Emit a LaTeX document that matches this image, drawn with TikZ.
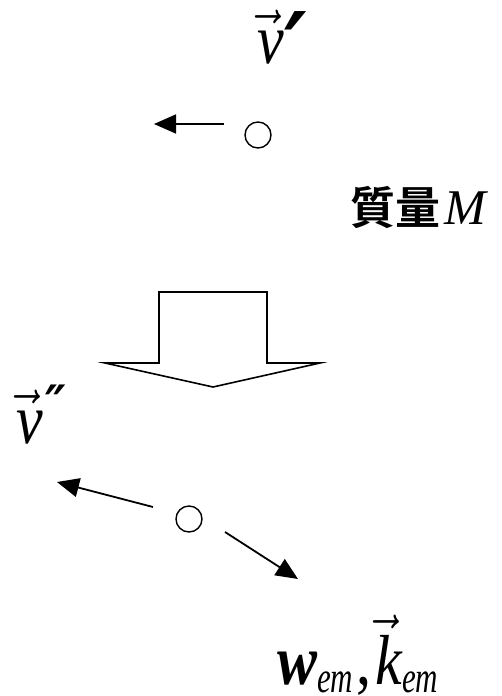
\documentclass[tikz,border=0pt]{standalone}
\usepackage{fix-cm}
\usepackage{amsmath}
\usepackage{graphicx}
\usepackage{fontspec}
\setmainfont{Liberation Serif}
\newfontfamily\cjkfont{Noto Sans CJK JP}[BoldFont={* Bold}]
\newfontfamily\primefont{DejaVu Sans}
\usetikzlibrary{arrows.meta,positioning}
% arrow-topped italic letter, prime marks and lowered subscript
\newcommand{\vecsym}[1]{$\vec{\text{\itshape #1}\kern-13pt}\kern13pt$}
\newcommand{\primes}[3]{\raisebox{#2}{\primefont\bfseries\itshape\fontsize{#1}{#1}\selectfont #3}}
\newcommand{\lowsub}[1]{\raisebox{-7pt}{\scalebox{1}[1.2]{\fontsize{31}{34}\selectfont\itshape #1}}}
\newcommand{\tall}[1]{\scalebox{1}[1.18]{#1}}

\begin{document}
\begin{tikzpicture}[x=1pt, y=-1pt,
    ball/.style={circle, draw, line width=1.4pt, minimum size=26pt, inner sep=0pt},
    motion/.style={line width=1.8pt, -{Triangle[length=22pt, width=19pt]}},
    sym/.style={inner sep=0pt, font=\fontsize{60}{66}\selectfont}
]
\useasboundingbox (0,0) rectangle (501,696);

% before: particle moving left
\node (vp) [sym, anchor=base west] at (257,63) {\tall{\vecsym{v}\kern1pt\primes{86}{-19pt}{′}}};
\node (ball1) [ball] at (258,135) {};
\coordinate (a1s) at (224,124);
\coordinate (a1e) at (154,124);
\draw[motion] (a1s) -- (a1e);
\node (mass) [anchor=base west, inner sep=0pt] at (350,224)
  {{\cjkfont\bfseries\fontsize{45}{50}\selectfont 質量}\kern4pt{\fontsize{50}{55}\selectfont\itshape M}};

% transition
\draw[line width=1.6pt, line join=miter]
  (159,363) -- (159,292) -- (267,292) -- (267,363) -- (320,363) -- (213,387) -- (105,363) -- cycle;

% after: particle and emitted wave
\node (vpp) [sym, anchor=base west] at (16,443) {\tall{\vecsym{v}\kern3pt\primes{46}{16pt}{″}}};
\node (ball2) [ball] at (189,519) {};
\coordinate (a2s) at (153,507);
\coordinate (a2e) at (57,482);
\coordinate (a3s) at (225,532);
\coordinate (a3e) at (298,579);
\draw[motion] (a2s) -- (a2e);
\draw[motion] (a3s) -- (a3e);
\node (wave) [sym, anchor=base west] at (277,684)
  {\tall{{\bfseries\itshape w}\lowsub{em}\kern3pt,\kern4pt\vecsym{k}\lowsub{em}}};

\end{tikzpicture}
\end{document}
